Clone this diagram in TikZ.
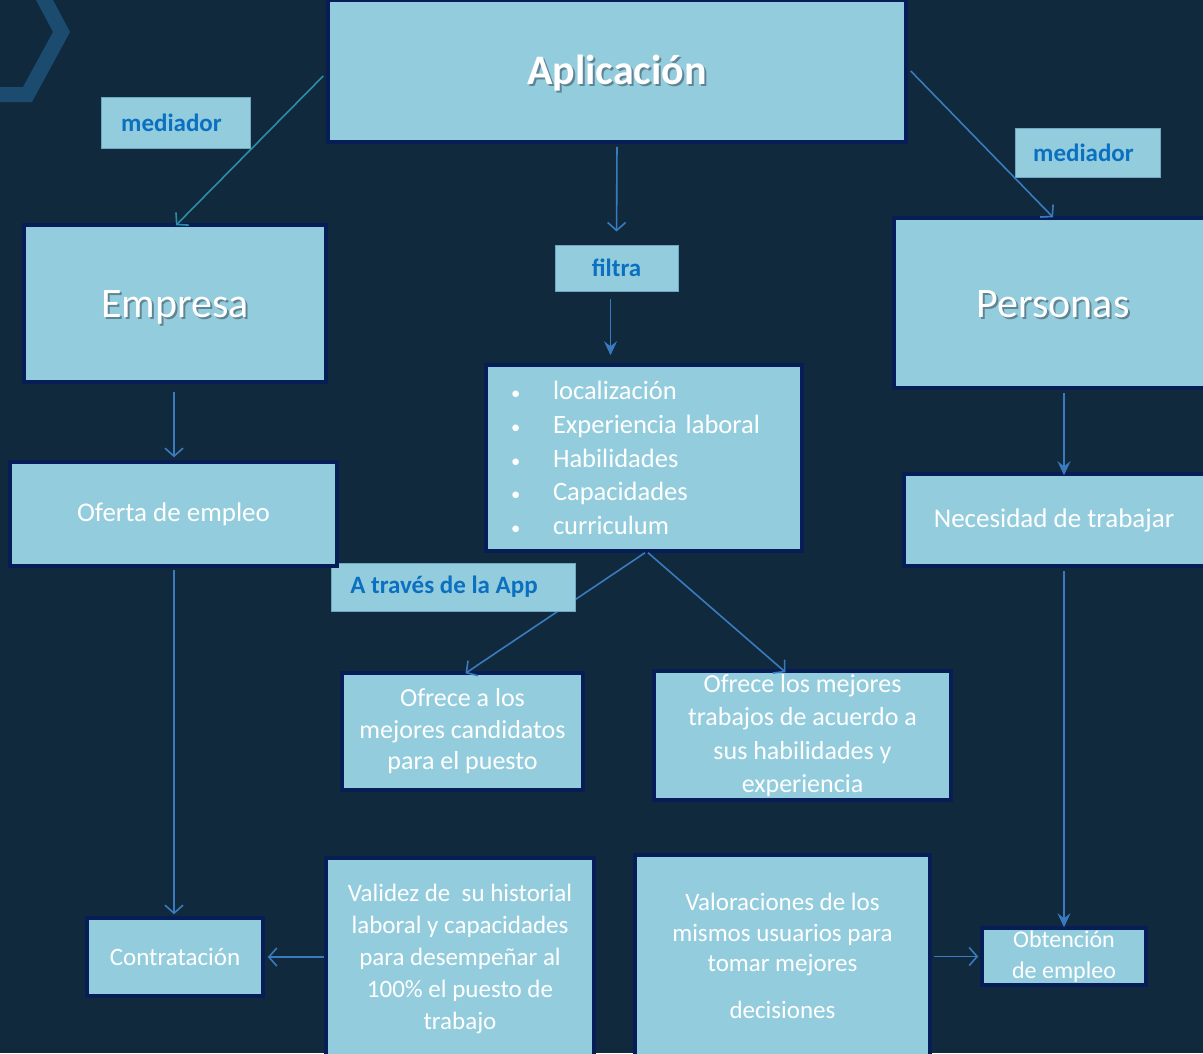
\documentclass[tikz,border=0pt]{standalone}
\usepackage{fontspec}
\setmainfont{Carlito}
\usetikzlibrary{arrows.meta,calc}
\definecolor{bgcol}{HTML}{10293C}
\definecolor{boxfill}{HTML}{93CDDD}
\definecolor{boxborder}{HTML}{071D56}
\definecolor{lblborder}{HTML}{6FA8C4}
\definecolor{lbltext}{HTML}{0B70C0}
\definecolor{arrcol}{HTML}{3A7BBF}
\definecolor{tealcol}{HTML}{2B8DA6}
\definecolor{chevcol}{HTML}{1C4B70}
\definecolor{shadowcol}{HTML}{5F8595}
\newcommand\shtext[2]{\smash{\raisebox{-#1}{\rlap{\raisebox{-2pt}{\hspace{2pt}\textcolor{shadowcol}{#2}}}#2}}}
\newcommand\bul{\makebox[46pt][l]{\hspace{4pt}\scalebox{0.7}{•}}}
\begin{document}
\begin{tikzpicture}[x=1pt,y=-1pt,
  bigbox/.style={draw=boxborder, line width=3.5pt, fill=boxfill, text=white, align=center, inner sep=0pt},
  lblbox/.style={draw=lblborder, line width=1pt, fill=boxfill, text=lbltext, font=\fontsize{25}{30}\selectfont\bfseries, inner sep=0pt},
  body/.style={font=\fontsize{27}{32}\selectfont},
  title/.style={font=\fontsize{42}{50}\selectfont},
  arr/.style={draw=arrcol, line width=1.6pt, -{Straight Barb[length=8pt,width=18pt,line width=1.6pt]}},
  sarr/.style={draw=arrcol, line width=1.6pt, -{Stealth[length=14pt,width=13pt,inset=5pt]}}
]
\fill[bgcol] (0,0) rectangle (1203,1053);
\useasboundingbox (0,0) rectangle (1203,1053);
% chevron decoration
\fill[chevcol] (36,0) -- (53,0) -- (70,32) -- (32,102) -- (0,102) -- (0,87) -- (23,87) -- (53,32) -- cycle;

% boxes whose connectors pass behind the label box
\node[bigbox, minimum width=316pt, minimum height=186pt, text width=274pt, align=left, inner xsep=21pt, font=\fontsize{26.5}{33.7}\selectfont] (list) at (644,458)
 {\bul localización\\
  \bul Experiencia laboral\\
  \bul Habilidades\\
  \bul Capacidades\\
  \bul curriculum};
\node[bigbox, minimum width=241pt, minimum height=117pt, font=\fontsize{26}{31.5}\selectfont] (ofr1) at (462.5,731.5)
 {Ofrece a los\\ mejores candidatos\\ para el puesto};
\node[bigbox, minimum width=297pt, minimum height=129pt, font=\fontsize{26}{33.3}\selectfont] (ofr2) at (802.5,735.5)
 {Ofrece los mejores\\ trabajos de acuerdo a\\ sus habilidades y\\ experiencia};
\draw[arr] ([xshift=1pt]list.south) -- ([xshift=3pt,yshift=-2pt]ofr1.north);
\draw[arr] ([xshift=4pt]list.south) -- ([xshift=-17pt,yshift=-3pt]ofr2.north);

\node[lblbox, minimum width=244pt, minimum height=48pt] (traves) at (453,587) {\hspace*{-18pt}A través de la App};

\node[bigbox, minimum width=578pt, minimum height=142pt, title] (app) at (617,71) {\bfseries\shtext{13pt}{Aplicación}};
\node[lblbox, minimum width=149pt, minimum height=51pt] (medL) at (175.5,122.5) {\hspace*{-8pt}mediador};
\node[lblbox, minimum width=145pt, minimum height=49pt] (medR) at (1087.5,152.5) {\hspace*{-8pt}mediador};
\node[bigbox, minimum width=302pt, minimum height=157pt, title] (emp) at (175,303.5) {\shtext{14pt}{Empresa}};
\node[lblbox, minimum width=123pt, minimum height=46pt] (filtra) at (616.5,268) {filtra};
\node[bigbox, minimum width=318pt, minimum height=170pt, title] (pers) at (1053,303) {\shtext{14pt}{Personas}};
\node[bigbox, minimum width=327pt, minimum height=104pt, body] (oferta) at (173.5,514) {Oferta de empleo};
\node[bigbox, minimum width=308pt, minimum height=92pt, body] (neces) at (1058,520) {\hspace*{-8pt}Necesidad de trabajar};
\node[bigbox, minimum width=176pt, minimum height=78pt, font=\fontsize{25}{30}\selectfont] (contr) at (175,957) {Contratación};
\node[bigbox, minimum width=268pt, minimum height=202pt, font=\fontsize{25}{32}\selectfont] (valid) at (460,959)
 {Validez de \ su historial\\ laboral y capacidades\\ para desempeñar al\\ 100\% el puesto de\\ trabajo};
\node[bigbox, minimum width=295pt, minimum height=202pt, font=\fontsize{25}{30.5}\selectfont] (valor) at (782.5,956)
 {Valoraciones de los\\ mismos usuarios para\\ tomar mejores\\[16pt] decisiones};
\node[bigbox, minimum width=164pt, minimum height=57pt, font=\fontsize{24}{31}\selectfont] (obt) at (1064,956.5)
 {Obtención\\ de empleo};

% connectors
\draw[draw=tealcol, line width=1.6pt, -{Straight Barb[length=8pt,width=18pt,line width=1.6pt]}] ([yshift=-5pt,xshift=-3pt]app.west) -- ([xshift=1pt,yshift=-2pt]emp.north);
\draw[arr, shorten <=3pt, shorten >=13pt] (app.south) -- (filtra.north);
\draw[arr] ([xshift=3pt]app.east) -- ([yshift=-1pt]pers.north);
\draw[sarr, shorten <=7pt, shorten >=8pt] ([xshift=-6pt]filtra.south) -- ([xshift=-6pt]filtra.south |- list.north);
\draw[arr, shorten <=8pt, shorten >=3pt] ([xshift=-1pt]emp.south) -- ([xshift=-1pt]emp.south |- oferta.north);
\draw[arr, shorten <=2pt, shorten >=2pt] ([xshift=0.5pt]oferta.south) -- ([xshift=0.5pt]oferta.south |- contr.north);
\draw[arr, shorten >=3pt] (valid.west |- contr.east) -- (contr.east);
\draw[arr, shorten <=2pt, shorten >=2pt] (valor.east |- obt.west) -- (obt.west);
\draw[sarr, shorten <=3pt, shorten >=-3pt] (obt.north |- pers.south) -- (obt.north |- neces.north);
\draw[sarr, shorten <=3pt, shorten >=-1pt] (obt.north |- neces.south) -- (obt.north);
\end{tikzpicture}
\end{document}
